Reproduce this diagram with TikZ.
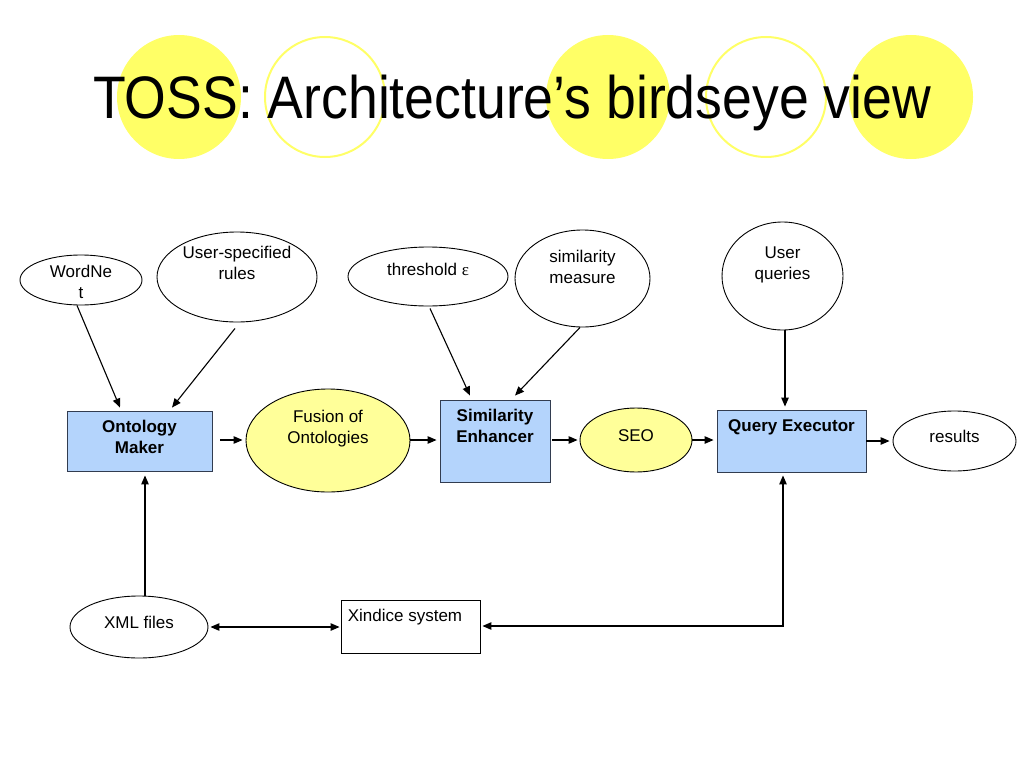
\documentclass[tikz,border=0pt]{standalone}
\usepackage{fontspec}
\setmainfont{Liberation Sans}
\newfontfamily\titlefont[FakeStretch=0.893]{Liberation Sans}
\newfontfamily\symfont{Liberation Serif}
\usetikzlibrary{shapes.geometric,arrows.meta,calc}
\definecolor{boxblue}{RGB}{180,212,252}
\definecolor{boxedge}{RGB}{50,60,80}
\definecolor{fuseyellow}{RGB}{255,255,153}
\definecolor{titleyellow}{RGB}{255,255,102}
\tikzset{
  oval/.style={ellipse, draw=black, line width=0.9pt, inner sep=0pt},
  yoval/.style={oval, fill=fuseyellow},
  bluebox/.style={rectangle, draw=boxedge, fill=boxblue, line width=0.9pt, inner sep=0pt},
  plainbox/.style={rectangle, draw=black, line width=0.9pt, inner sep=0pt},
  lbl/.style={font=\fontsize{17}{21}\selectfont, align=center, inner sep=0pt},
  blbl/.style={lbl, font=\fontsize{17}{21}\selectfont\bfseries},
  conn/.style={line width=1.1pt, -{Triangle[length=9pt,width=7.5pt]}},
  dconn/.style={line width=1.1pt, {Triangle[length=9pt,width=7.5pt]}-{Triangle[length=9pt,width=7.5pt]}},
  tfill/.style={circle, fill=titleyellow, minimum size=124pt, inner sep=0pt},
  tring/.style={circle, draw=titleyellow, line width=2pt, minimum size=120pt, inner sep=0pt},
}
\begin{document}
\begin{tikzpicture}[x=1pt,y=-1pt]
\useasboundingbox (0,0) rectangle (1024,768);
% title decoration
\node[tfill] (c1) at (179,97) {};
\node[tring] (c2) at (325,97) {};
\node[tfill] (c3) at (608,97) {};
\node[tring] (c4) at (766,97) {};
\node[tfill] (c5) at (911,97) {};
\node[anchor=base west, inner sep=0pt, font=\titlefont\fontsize{60}{60}\selectfont] (title) at (93,118) {TOSS: Architecture’s birdseye view};

% shapes
\node[oval, minimum width=122pt, minimum height=50pt] (wn) at (81,280) {};
\node[oval, minimum width=160pt, minimum height=90pt] (usr) at (237,277) {};
\node[bluebox, minimum width=145pt, minimum height=60pt] (om) at (139.5,441) {};
\node[yoval, minimum width=164pt, minimum height=103pt] (fus) at (328,440.5) {};
\node[oval, minimum width=160pt, minimum height=59pt] (thr) at (428,276.5) {};
\node[oval, minimum width=135pt, minimum height=97pt] (sim) at (582.5,278.5) {};
\node[bluebox, minimum width=110pt, minimum height=82pt] (se) at (495,441) {};
\node[yoval, minimum width=112pt, minimum height=64pt] (seo) at (636,440) {};
\node[oval, minimum width=121pt, minimum height=108pt] (uq) at (782.5,276) {};
\node[bluebox, minimum width=149pt, minimum height=62pt] (qe) at (791.5,441) {};
\node[oval, minimum width=123pt, minimum height=60pt] (res) at (954.5,441) {};
\node[oval, minimum width=138pt, minimum height=62pt] (xml) at (139,627) {};
\node[plainbox, minimum width=139pt, minimum height=53pt] (xin) at (410.5,626.5) {};

% labels
\node[lbl] (wnt) at (81,282) {WordNe\\t};
\node[lbl] (usrt) at (237,263) {User-specified\\rules};
\node[blbl] (omt) at (139.5,437) {Ontology\\Maker};
\node[lbl] (fust) at (328,429) {Fusion of\\Ontologies};
\node[lbl] (thrt) at (428,269) {threshold {\symfont ε}};
\node[lbl] (simt) at (582.5,267) {similarity\\measure};
\node[blbl] (set) at (495,426) {Similarity\\Enhancer};
\node[lbl] (seot) at (636,436) {SEO};
\node[lbl] (uqt) at (782.5,265) {User\\queries};
\node[blbl] (qet) at (791.5,427) {Query Executor};
\node[lbl] (rest) at (954.5,436) {results};
\node[lbl] (xmlt) at (139,622) {XML files};
\node[lbl] (xint) at (405,617) {Xindice system};

% connectors
\draw[conn] ($(wn.south)+(-4,0)$) -- ($(om.north)+(-19.5,-3)$);
\draw[conn] ($(usr.south)+(-2,6)$) -- ($(om.north)+(32.5,-3)$);
\draw[conn] ($(om.east)+(8,-1)$) -- ($(fus.west)+(-3,-0.5)$);
\draw[conn] ($(fus.east)+(0,-0.5)$) -- ($(se.west)+(-3,-1)$);
\draw[conn] ($(thr.south)+(2,2)$) -- ($(se.north)+(-25,-4)$);
\draw[conn] ($(sim.south)+(-2.5,0)$) -- ($(se.north)+(20,-4)$);
\draw[conn] ($(se.east)+(2,-1)$) -- ($(seo.west)+(-2,0)$);
\draw[conn] ($(seo.east)+(0,0)$) -- ($(qe.west)+(-3,-1)$);
\draw[conn] ($(uq.south)+(2.5,0)$) -- ($(qe.north)+(-6.5,-3)$);
\draw[conn] ($(qe.east)+(0,0)$) -- ($(res.west)+(-3,0)$);
\draw[conn] ($(xml.north)+(6,0)$) -- ($(om.south)+(5.5,4)$);
\draw[dconn] ($(xml.east)+(2,0)$) -- ($(xin.west)+(-1,0.5)$);
\draw[dconn] ($(xin.east)+(2,-0.5)$) -| ($(qe.south)+(-8.5,3)$);
\end{tikzpicture}
\end{document}
